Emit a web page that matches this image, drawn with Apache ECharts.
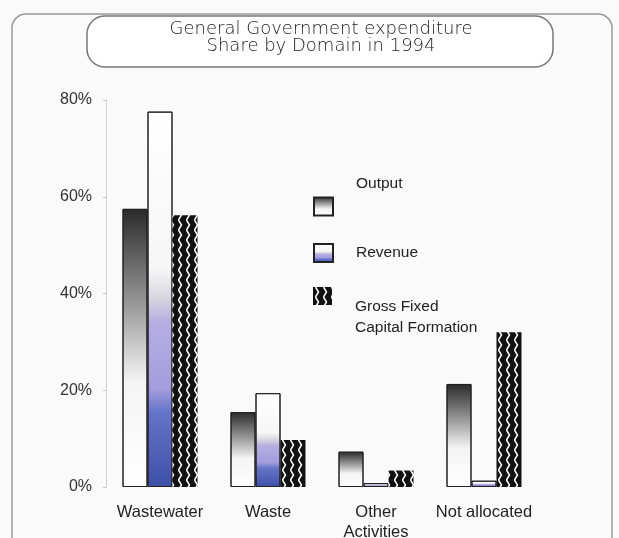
<!DOCTYPE html>
<html>
<head>
<meta charset="utf-8">
<script src="https://cdn.jsdelivr.net/npm/echarts@6/dist/echarts.min.js"></script>
<style>
  html, body { margin: 0; padding: 0; background: #fafafa; }
  #main { width: 619px; height: 538px; }
</style>
</head>
<body>
<div id="main"></div>
<script>
// values (share of expenditure, %)
var categories = ['Wastewater', 'Waste', 'Other\nActivities', 'Not allocated'];
var output = [57.5, 15.5, 7.3, 21.3];
var revenue = [77.6, 19.4, 0.8, 1.3];
var gfcf = [56.2, 9.7, 3.4, 32.0];
var yTicks = [0, 20, 40, 60, 80];

// black and white wave fill
function wavePattern() {
  var c = document.createElement('canvas');
  c.width = 8; c.height = 10;
  var ctx = c.getContext('2d');
  ctx.fillStyle = '#111';
  ctx.fillRect(0, 0, 8, 10);
  ctx.strokeStyle = '#fff';
  ctx.lineWidth = 1.5;
  ctx.beginPath();
  ctx.moveTo(2.5, 0); ctx.lineTo(5.5, 5); ctx.lineTo(2.5, 10);
  ctx.stroke();
  return c;
}

var outputFill = {
  type: 'linear', x: 0, y: 0, x2: 0, y2: 1,
  colorStops: [
    { offset: 0, color: '#2a2a2a' },
    { offset: 0.3, color: '#8a8a8a' },
    { offset: 0.62, color: '#f4f4f4' },
    { offset: 1, color: '#ffffff' }
  ]
};
var revenueFill = {
  type: 'linear', x: 0, y: 0, x2: 0, y2: 1,
  colorStops: [
    { offset: 0, color: '#ffffff' },
    { offset: 0.42, color: '#f6f6f6' },
    { offset: 0.5, color: '#d6d4de' },
    { offset: 0.56, color: '#b6aee2' },
    { offset: 0.74, color: '#a49cdc' },
    { offset: 0.8, color: '#6474c8' },
    { offset: 1, color: '#3e50a6' }
  ]
};

var legendText = { fontSize: 15.5, color: '#222', padding: [0, 0, 0, 18] };

var chart = echarts.init(document.getElementById('main'));
chart.setOption({
  backgroundColor: '#fafafa',
  textStyle: { fontFamily: 'Liberation Sans' },
  grid: { left: 106, right: 81, top: 100, bottom: 51, outerBoundsMode: 'none', containLabel: false },
  legend: [
    {
      data: ['Output'], orient: 'vertical', left: 313, top: 172, padding: 0,
      icon: 'rect', itemWidth: 19, itemHeight: 18,
      formatter: 'Output\n\n',
      textStyle: Object.assign({ lineHeight: 23 }, legendText)
    },
    {
      data: ['Revenue'], orient: 'vertical', left: 313, top: 243, padding: 0,
      icon: 'rect', itemWidth: 19, itemHeight: 18,
      textStyle: legendText
    },
    {
      data: ['Gross Fixed Capital Formation'], orient: 'vertical', left: 313, top: 254, padding: 0,
      icon: 'rect', itemWidth: 19, itemHeight: 18,
      formatter: '\n\nGross Fixed\nCapital Formation',
      textStyle: Object.assign({ lineHeight: 21 }, legendText)
    }
  ],
  xAxis: {
    type: 'category',
    data: categories,
    axisLine: { show: false },
    axisTick: { show: false },
    axisLabel: { interval: 0, fontSize: 16.5, color: '#222', margin: 15, lineHeight: 20 }
  },
  yAxis: {
    type: 'value',
    min: yTicks[0], max: yTicks[yTicks.length - 1], interval: 20,
    axisLine: { show: true, lineStyle: { color: '#c8c8c8', type: 'dotted' } },
    axisTick: { show: true, length: 3, lineStyle: { color: '#c8c8c8' } },
    splitLine: { show: false },
    axisLabel: { formatter: '{value}%', fontSize: 16, color: '#333', margin: 14 }
  },
  series: [
    {
      name: 'Output', type: 'bar', data: output, barWidth: 25, barGap: '0%',
      itemStyle: { color: outputFill, borderColor: '#222', borderWidth: 1 }
    },
    {
      name: 'Revenue', type: 'bar', data: revenue, barWidth: 25, barGap: '0%',
      itemStyle: { color: revenueFill, borderColor: '#222', borderWidth: 1 }
    },
    {
      name: 'Gross Fixed Capital Formation', type: 'bar', data: gfcf, barWidth: 25, barGap: '0%',
      itemStyle: { color: { image: wavePattern(), repeat: 'repeat' } }
    }
  ],
  graphic: [
    {
      type: 'rect', z: -10, silent: true,
      shape: { x: 12, y: 14, width: 600, height: 560, r: 14 },
      style: { fill: 'transparent', stroke: '#999', lineWidth: 1.5 }
    },
    {
      type: 'rect', z: 10, silent: true,
      shape: { x: 87, y: 16, width: 466, height: 51, r: 18 },
      style: { fill: '#ffffff', stroke: '#777', lineWidth: 1.5 }
    },
    {
      type: 'text', z: 11, silent: true, x: 321, y: 21,
      style: {
        text: 'General Government expenditure\nShare by Domain in 1994',
        fontFamily: 'DejaVu Sans', fontWeight: 200, fontSize: 18, lineHeight: 17,
        fill: '#222', align: 'center', verticalAlign: 'top'
      }
    }
  ]
});
</script>
</body>
</html>
